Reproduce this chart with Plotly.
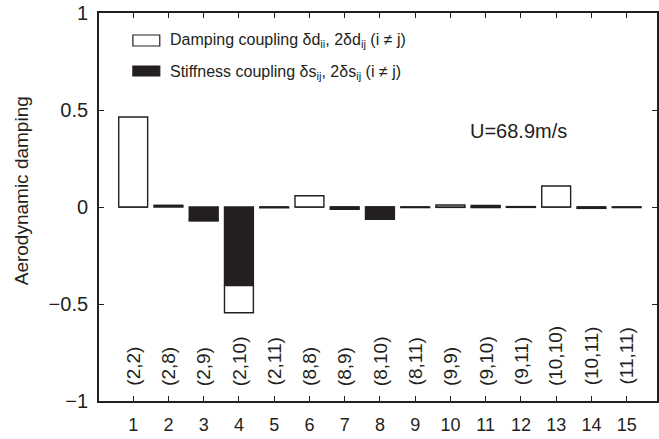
import plotly.graph_objects as go

# ---- data ----
categories = list(range(1, 16))
pair_labels = ["(2,2)", "(2,8)", "(2,9)", "(2,10)", "(2,11)", "(8,8)", "(8,9)", "(8,10)",
               "(8,11)", "(9,9)", "(9,10)", "(9,11)", "(10,10)", "(10,11)", "(11,11)"]
stiffness = [0.0, 0.008, -0.065, -0.405, -0.004, 0.0, -0.012, -0.063,
             -0.003, -0.002, -0.003, -0.002, 0.0, -0.007, -0.003]
damping = [0.464, 0.0, -0.007, -0.14, 0.0, 0.058, 0.0, 0.0,
           0.0, 0.01, 0.008, 0.002, 0.108, 0.0, 0.0]
y_ticks = [-1, -0.5, 0, 0.5, 1]
y_ticktext = ["\u22121", "\u22120.5", "0", "0.5", "1"]
speed_text = "U=68.9m/s"
y_title = "Aerodynamic damping"
legend_texts = ["Damping coupling \u03b4d<sub>ii</sub>, 2\u03b4d<sub>ij</sub> (i \u2260 j)",
                "Stiffness coupling \u03b4s<sub>ij</sub>, 2\u03b4s<sub>ij</sub> (i \u2260 j)"]

DARK = "#231f20"
FONT = "Liberation Sans, Arial, sans-serif"

# layout geometry (pixels)
W, H = 659, 439
ML, MR, MT, MB = 99, 0, 13, 38
PH = H - MT - MB
YR = (-1, 1)
px_per_unit = PH / (YR[1] - YR[0])

fig = go.Figure()
fig.add_trace(go.Bar(x=categories, y=stiffness, width=0.82,
                     marker=dict(color=DARK, line=dict(color=DARK, width=1.4)),
                     showlegend=False))
fig.add_trace(go.Bar(x=categories, y=damping, width=0.82,
                     marker=dict(color="white", line=dict(color=DARK, width=1.4)),
                     showlegend=False))

# rotated pair labels, bottom-aligned
LAB_SIZE = 19
CW = {"(": 0.333, ")": 0.333, ",": 0.278}
label_bottom_px = 386  # from top of figure
bottom_val = YR[1] - (label_bottom_px - MT) / px_per_unit
for c, lab in zip(categories, pair_labels):
    em = sum(CW.get(ch, 0.556) for ch in lab)
    half = em * LAB_SIZE / 2 / px_per_unit
    fig.add_annotation(x=c, y=bottom_val + half, text=lab, textangle=-90, showarrow=False,
                       xanchor="center", yanchor="middle",
                       font=dict(size=LAB_SIZE, color=DARK, family=FONT))

def px_to_paper(px, py):
    return (px - ML) / (W - ML - MR), (H - MB - py) / PH

ux, uy = px_to_paper(520, 131)
fig.add_annotation(x=ux, y=uy, xref="paper", yref="paper", text=speed_text,
                   showarrow=False, xanchor="center", yanchor="middle",
                   font=dict(size=20, color=DARK, family=FONT))

tx, ty = px_to_paper(21, 191)
fig.add_annotation(x=tx, y=ty, xref="paper", yref="paper", text=y_title, textangle=-90,
                   showarrow=False, xanchor="center", yanchor="middle",
                   font=dict(size=19, color=DARK, family=FONT))

# legend (manual swatches)
sx0, sy0 = px_to_paper(133, 46)
sx1, sy1 = px_to_paper(160, 35)
fig.add_shape(type="rect", xref="paper", yref="paper", x0=sx0, x1=sx1, y0=sy0, y1=sy1,
              fillcolor="white", line=dict(color=DARK, width=1.2))
sx0, sy0 = px_to_paper(133, 76)
sx1, sy1 = px_to_paper(160, 66)
fig.add_shape(type="rect", xref="paper", yref="paper", x0=sx0, x1=sx1, y0=sy0, y1=sy1,
              fillcolor=DARK, line=dict(color=DARK, width=1.2))
for txt, py in zip(legend_texts, [41, 72]):
    lx, ly = px_to_paper(168, py)
    fig.add_annotation(x=lx, y=ly, xref="paper", yref="paper", text=txt,
                       showarrow=False, xanchor="left", yanchor="middle",
                       font=dict(size=16, color=DARK, family=FONT))

fig.update_layout(
    barmode="relative",
    width=W, height=H,
    margin=dict(l=ML, r=MR, t=MT, b=MB),
    plot_bgcolor="white", paper_bgcolor="white",
    font=dict(family=FONT, size=18, color=DARK),
    xaxis=dict(range=[0.03, 15.86], tickmode="array", tickvals=categories,
               ticks="inside", ticklen=5, tickcolor=DARK, tickwidth=1,
               showline=True, linecolor=DARK, linewidth=1.8, mirror="ticks",
               showgrid=False, zeroline=False, tickfont=dict(size=18),
               ticklabelstandoff=6),
    yaxis=dict(range=list(YR), tickmode="array", tickvals=y_ticks, ticktext=y_ticktext,
               ticks="inside", ticklen=5, tickcolor=DARK, tickwidth=1,
               showline=True, linecolor=DARK, linewidth=1.8, mirror="ticks",
               showgrid=False, zeroline=False, tickfont=dict(size=20),
               ticklabelstandoff=5),
)

fig.write_html("out.html")
